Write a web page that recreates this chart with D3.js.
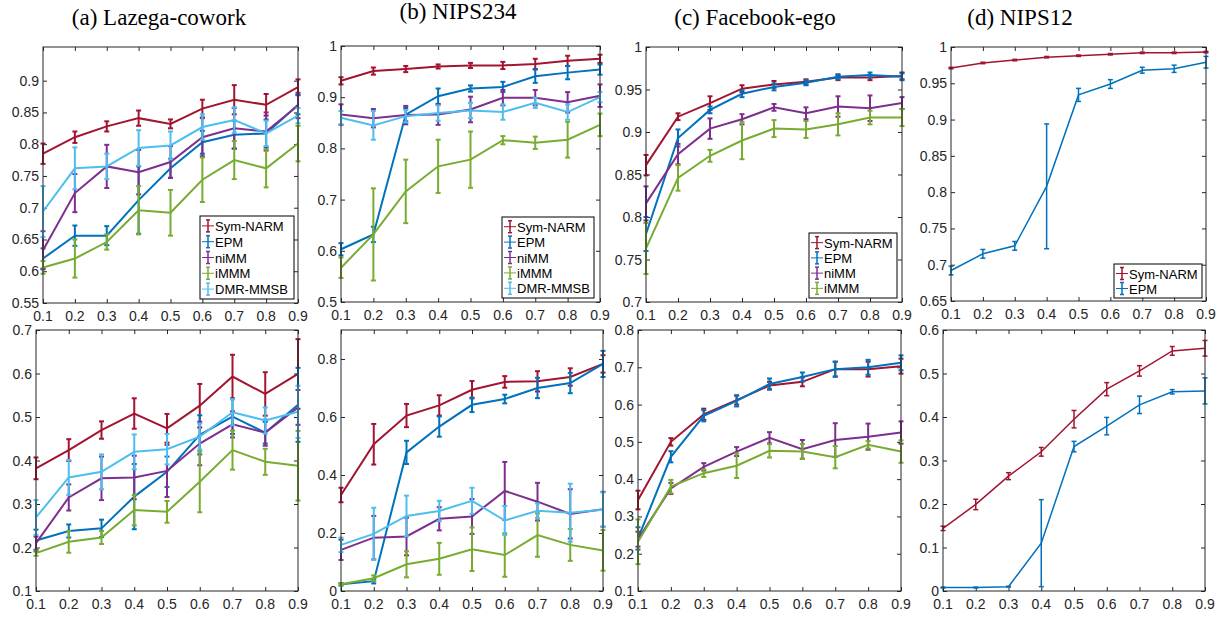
<!DOCTYPE html>
<html>
<head>
<meta charset="utf-8">
<script src="https://cdn.jsdelivr.net/npm/d3@7"></script>
<style>
  body { margin: 0; background: #fff; }
  svg { display: block; }
  .tick-label { font-family: "Liberation Sans", Arial, sans-serif; font-size: 14px; fill: #262626; }
  .legend-label { font-family: "Liberation Sans", Arial, sans-serif; font-size: 13px; fill: #000; }
  .title { font-family: "Liberation Serif", "Times New Roman", serif; font-size: 23px; fill: #000; }
</style>
</head>
<body>
<svg id="chart" width="1223" height="617"></svg>
<script>
// x values (training ratio)
const xValues = [0.1, 0.2, 0.3, 0.4, 0.5, 0.6, 0.7, 0.8, 0.9];
const modelNames = ['Sym-NARM', 'EPM', 'niMM', 'iMMM', 'DMR-MMSB'];
const modelColors = ['#A2142F', '#0072BD', '#7E2F8E', '#77AC30', '#4DBEEE'];

// (a) Lazega-cowork, top row
const lazegaTopMean = [
  [0.785, 0.811, 0.828, 0.841, 0.832, 0.856, 0.870, 0.862, 0.890],
  [0.620, 0.656, 0.656, 0.712, 0.762, 0.803, 0.815, 0.817, 0.862],
  [0.633, 0.723, 0.765, 0.756, 0.772, 0.811, 0.825, 0.820, 0.861],
  [0.606, 0.620, 0.646, 0.696, 0.692, 0.744, 0.775, 0.762, 0.801],
  [0.694, 0.762, 0.765, 0.794, 0.798, 0.827, 0.838, 0.817, 0.845]
];
const lazegaTopErr = [
  [0.016, 0.009, 0.008, 0.012, 0.007, 0.014, 0.023, 0.017, 0.012],
  [0.016, 0.016, 0.015, 0.053, 0.015, 0.018, 0.022, 0.022, 0.015],
  [0.030, 0.030, 0.034, 0.035, 0.025, 0.030, 0.032, 0.030, 0.020],
  [0.010, 0.030, 0.012, 0.038, 0.036, 0.035, 0.030, 0.030, 0.028],
  [0.040, 0.033, 0.020, 0.028, 0.022, 0.020, 0.020, 0.020, 0.012]
];

// (b) NIPS234, top row
const nips234TopMean = [
  [0.932, 0.951, 0.955, 0.960, 0.962, 0.962, 0.965, 0.971, 0.975],
  [0.603, 0.632, 0.866, 0.902, 0.917, 0.920, 0.941, 0.948, 0.954],
  [0.866, 0.859, 0.865, 0.866, 0.876, 0.899, 0.899, 0.890, 0.903],
  [0.567, 0.632, 0.716, 0.765, 0.778, 0.816, 0.811, 0.817, 0.846],
  [0.860, 0.845, 0.863, 0.869, 0.874, 0.871, 0.889, 0.871, 0.900]
];
const nips234TopErr = [
  [0.007, 0.007, 0.006, 0.004, 0.005, 0.007, 0.010, 0.010, 0.008],
  [0.012, 0.015, 0.013, 0.015, 0.006, 0.010, 0.013, 0.013, 0.010],
  [0.020, 0.018, 0.018, 0.020, 0.025, 0.015, 0.015, 0.020, 0.022],
  [0.020, 0.090, 0.062, 0.052, 0.055, 0.008, 0.012, 0.035, 0.022],
  [0.013, 0.028, 0.012, 0.015, 0.015, 0.015, 0.010, 0.015, 0.010]
];

// (c) Facebook-ego, top row
const facebookTopMean = [
  [0.861, 0.918, 0.934, 0.951, 0.956, 0.959, 0.964, 0.964, 0.966],
  [0.780, 0.893, 0.926, 0.945, 0.953, 0.958, 0.965, 0.967, 0.965],
  [0.816, 0.874, 0.904, 0.915, 0.929, 0.922, 0.930, 0.928, 0.934],
  [0.763, 0.846, 0.872, 0.890, 0.904, 0.903, 0.909, 0.917, 0.917]
];
const facebookTopErr = [
  [0.012, 0.004, 0.008, 0.004, 0.004, 0.003, 0.003, 0.003, 0.004],
  [0.020, 0.010, 0.004, 0.004, 0.004, 0.003, 0.003, 0.003, 0.004],
  [0.020, 0.012, 0.012, 0.006, 0.004, 0.007, 0.012, 0.015, 0.007],
  [0.030, 0.015, 0.007, 0.022, 0.010, 0.010, 0.013, 0.008, 0.010]
];

// (d) NIPS12, top row
const nips12TopMean = [
  [0.971, 0.978, 0.982, 0.986, 0.988, 0.990, 0.992, 0.992, 0.993],
  [0.692, 0.715, 0.726, 0.808, 0.934, 0.949, 0.968, 0.970, 0.979]
];
const nips12TopErr = [
  [0.001, 0.001, 0.001, 0.001, 0.001, 0.001, 0.001, 0.001, 0.001],
  [0.006, 0.006, 0.006, 0.086, 0.009, 0.006, 0.004, 0.005, 0.008]
];

// (a) Lazega-cowork, bottom row
const lazegaBottomMean = [
  [0.382, 0.424, 0.470, 0.508, 0.474, 0.526, 0.593, 0.553, 0.599],
  [0.216, 0.238, 0.244, 0.317, 0.374, 0.459, 0.501, 0.464, 0.528],
  [0.210, 0.315, 0.359, 0.361, 0.376, 0.439, 0.483, 0.464, 0.522],
  [0.187, 0.213, 0.223, 0.286, 0.282, 0.351, 0.424, 0.397, 0.388],
  [0.269, 0.361, 0.374, 0.420, 0.426, 0.455, 0.511, 0.492, 0.512]
];
const lazegaBottomErr = [
  [0.025, 0.025, 0.020, 0.035, 0.033, 0.050, 0.050, 0.050, 0.080],
  [0.025, 0.015, 0.020, 0.075, 0.035, 0.045, 0.040, 0.025, 0.085],
  [0.015, 0.030, 0.050, 0.050, 0.060, 0.050, 0.030, 0.030, 0.040],
  [0.006, 0.025, 0.015, 0.035, 0.025, 0.070, 0.045, 0.030, 0.080],
  [0.040, 0.040, 0.040, 0.040, 0.035, 0.030, 0.030, 0.030, 0.060]
];

// (b) NIPS234, bottom row
const nips234BottomMean = [
  [0.331, 0.506, 0.605, 0.640, 0.694, 0.721, 0.723, 0.738, 0.783],
  [0.023, 0.034, 0.478, 0.567, 0.642, 0.662, 0.700, 0.717, 0.783],
  [0.142, 0.184, 0.188, 0.249, 0.257, 0.345, 0.308, 0.266, 0.282],
  [0.023, 0.044, 0.092, 0.111, 0.144, 0.124, 0.193, 0.159, 0.140],
  [0.159, 0.197, 0.259, 0.276, 0.311, 0.243, 0.277, 0.270, 0.280]
];
const nips234BottomErr = [
  [0.025, 0.070, 0.040, 0.035, 0.030, 0.020, 0.035, 0.030, 0.030],
  [0.004, 0.008, 0.040, 0.035, 0.025, 0.015, 0.035, 0.035, 0.045],
  [0.035, 0.075, 0.065, 0.040, 0.060, 0.100, 0.065, 0.085, 0.060],
  [0.004, 0.010, 0.045, 0.055, 0.075, 0.075, 0.075, 0.055, 0.070],
  [0.025, 0.090, 0.070, 0.035, 0.045, 0.050, 0.025, 0.100, 0.060]
];

// (c) Facebook-ego, bottom row
const facebookBottomMean = [
  [0.344, 0.500, 0.574, 0.612, 0.651, 0.661, 0.695, 0.695, 0.703],
  [0.241, 0.460, 0.570, 0.610, 0.655, 0.674, 0.695, 0.700, 0.712],
  [0.239, 0.375, 0.433, 0.474, 0.511, 0.480, 0.505, 0.514, 0.525],
  [0.232, 0.380, 0.416, 0.436, 0.476, 0.474, 0.459, 0.492, 0.474]
];
const facebookBottomErr = [
  [0.025, 0.010, 0.015, 0.012, 0.010, 0.012, 0.020, 0.020, 0.020],
  [0.030, 0.015, 0.015, 0.015, 0.015, 0.012, 0.020, 0.020, 0.020],
  [0.020, 0.015, 0.010, 0.012, 0.015, 0.025, 0.045, 0.035, 0.030],
  [0.060, 0.018, 0.010, 0.033, 0.018, 0.020, 0.030, 0.010, 0.030]
];

// (d) NIPS12, bottom row
const nips12BottomMean = [
  [0.144, 0.199, 0.264, 0.320, 0.395, 0.464, 0.506, 0.552, 0.558],
  [0.008, 0.008, 0.010, 0.110, 0.332, 0.379, 0.428, 0.458, 0.460]
];
const nips12BottomErr = [
  [0.005, 0.012, 0.008, 0.010, 0.020, 0.015, 0.012, 0.010, 0.018],
  [0.001, 0.001, 0.001, 0.100, 0.012, 0.020, 0.020, 0.005, 0.030]
];

const titles = ['(a) Lazega-cowork', '(b) NIPS234', '(c) Facebook-ego', '(d) NIPS12'];

const svg = d3.select('#chart');
const axisColor = '#262626';
const tickLen = 4;
const fmt = (v) => String(+v.toFixed(2));

function drawPanel(cfg) {
  const x = d3.scaleLinear().domain([0.1, 0.9]).range([cfg.left, cfg.right]);
  const y = d3.scaleLinear().domain(cfg.yDomain).range([cfg.bottom, cfg.top]);
  const g = svg.append('g');

  // inward ticks on all four sides
  g.append('g').attr('transform', `translate(0,${cfg.bottom})`)
    .call(d3.axisTop(x).tickValues(xValues).tickSize(tickLen).tickFormat(''));
  g.append('g').attr('transform', `translate(0,${cfg.top})`)
    .call(d3.axisBottom(x).tickValues(xValues).tickSize(tickLen).tickFormat(''));
  g.append('g').attr('transform', `translate(${cfg.left},0)`)
    .call(d3.axisRight(y).tickValues(cfg.yTicks).tickSize(tickLen).tickFormat(''));
  g.append('g').attr('transform', `translate(${cfg.right},0)`)
    .call(d3.axisLeft(y).tickValues(cfg.yTicks).tickSize(tickLen).tickFormat(''));
  g.selectAll('.domain').remove();
  g.selectAll('.tick line').attr('stroke', axisColor).attr('stroke-width', 1);

  g.selectAll('.xlab').data(xValues).join('text')
    .attr('class', 'tick-label')
    .attr('x', (d) => x(d)).attr('y', cfg.bottom + 18)
    .attr('text-anchor', 'middle').text((d) => fmt(d));
  g.selectAll('.ylab').data(cfg.yTicks).join('text')
    .attr('class', 'tick-label')
    .attr('x', cfg.left - 4).attr('y', (d) => y(d) + 5)
    .attr('text-anchor', 'end').text((d) => fmt(d));

  const line = d3.line().x((d, i) => x(xValues[i])).y((d) => y(d));
  const cap = 2.5;
  cfg.mean.forEach((series, k) => {
    const color = modelColors[k];
    const err = cfg.err[k];
    g.append('path').datum(series)
      .attr('fill', 'none').attr('stroke', color)
      .attr('stroke-width', cfg.lw).attr('d', line);
    const bars = g.append('g').attr('stroke', color).attr('stroke-width', cfg.lw);
    series.forEach((v, i) => {
      const cx = x(xValues[i]);
      const y0 = y(v - err[i]);
      const y1 = y(v + err[i]);
      bars.append('line').attr('x1', cx).attr('x2', cx).attr('y1', y0).attr('y2', y1);
      bars.append('line').attr('x1', cx - cap).attr('x2', cx + cap).attr('y1', y0).attr('y2', y0);
      bars.append('line').attr('x1', cx - cap).attr('x2', cx + cap).attr('y1', y1).attr('y2', y1);
    });
  });

  g.append('rect')
    .attr('x', cfg.left).attr('y', cfg.top)
    .attr('width', cfg.right - cfg.left).attr('height', cfg.bottom - cfg.top)
    .attr('fill', 'none').attr('stroke', axisColor).attr('stroke-width', 1);

  if (cfg.legend) {
    const L = cfg.legend;
    const n = cfg.mean.length;
    const lg = g.append('g');
    lg.append('rect').attr('x', L.x).attr('y', L.y).attr('width', L.w).attr('height', L.h)
      .attr('fill', '#fff').attr('stroke', '#000').attr('stroke-width', 1);
    const step = (L.h - 4) / n;
    for (let k = 0; k < n; k++) {
      const cy = L.y + 2 + step * (k + 0.5);
      const c = modelColors[k];
      lg.append('line').attr('x1', L.x + 2).attr('x2', L.x + 14).attr('y1', cy).attr('y2', cy)
        .attr('stroke', c).attr('stroke-width', 1);
      lg.append('line').attr('x1', L.x + 8).attr('x2', L.x + 8).attr('y1', cy - 6).attr('y2', cy + 6)
        .attr('stroke', c).attr('stroke-width', 1.5);
      lg.append('line').attr('x1', L.x + 6).attr('x2', L.x + 10).attr('y1', cy - 6).attr('y2', cy - 6)
        .attr('stroke', c).attr('stroke-width', 1.5);
      lg.append('line').attr('x1', L.x + 6).attr('x2', L.x + 10).attr('y1', cy + 6).attr('y2', cy + 6)
        .attr('stroke', c).attr('stroke-width', 1.5);
      lg.append('text').attr('class', 'legend-label')
        .attr('x', L.x + 15).attr('y', cy + 5).text(modelNames[k]);
    }
  }
}

const rangeTicks = (a, b, s) => d3.range(Math.round((b - a) / s) + 1).map((i) => +(a + i * s).toFixed(2));

const panels = [
  { mean: lazegaTopMean, err: lazegaTopErr, left: 43, right: 298, top: 47, bottom: 303,
    yDomain: [0.55, 0.953], yTicks: rangeTicks(0.55, 0.9, 0.05), lw: 2,
    legend: { x: 200, y: 216, w: 94, h: 83 } },
  { mean: nips234TopMean, err: nips234TopErr, left: 341, right: 600, top: 46, bottom: 302,
    yDomain: [0.5, 1], yTicks: rangeTicks(0.5, 1, 0.1), lw: 2,
    legend: { x: 502, y: 217, w: 92, h: 81 } },
  { mean: facebookTopMean, err: facebookTopErr, left: 646, right: 902, top: 47, bottom: 302,
    yDomain: [0.7, 1], yTicks: rangeTicks(0.7, 1, 0.05), lw: 2,
    legend: { x: 809, y: 233, w: 88, h: 65 } },
  { mean: nips12TopMean, err: nips12TopErr, left: 951, right: 1206, top: 47, bottom: 301,
    yDomain: [0.65, 1], yTicks: rangeTicks(0.65, 1, 0.05), lw: 1.5,
    legend: { x: 1114, y: 264, w: 88, h: 34 } },
  { mean: lazegaBottomMean, err: lazegaBottomErr, left: 36, right: 298, top: 330, bottom: 591,
    yDomain: [0.1, 0.7], yTicks: rangeTicks(0.1, 0.7, 0.1), lw: 2 },
  { mean: nips234BottomMean, err: nips234BottomErr, left: 341, right: 603, top: 330, bottom: 591,
    yDomain: [0, 0.9], yTicks: rangeTicks(0, 0.8, 0.2), lw: 2 },
  { mean: facebookBottomMean, err: facebookBottomErr, left: 638, right: 901, top: 330, bottom: 591,
    yDomain: [0.1, 0.8], yTicks: rangeTicks(0.1, 0.8, 0.1), lw: 2 },
  { mean: nips12BottomMean, err: nips12BottomErr, left: 943, right: 1205, top: 330, bottom: 591,
    yDomain: [0, 0.6], yTicks: rangeTicks(0, 0.6, 0.1), lw: 1.5 }
];

panels.forEach(drawPanel);

// panel titles
const titleX = [159, 458, 755, 1020];
const titleY = [25, 19, 25, 25];
svg.selectAll('.title').data(titles).join('text')
  .attr('class', 'title')
  .attr('x', (d, i) => titleX[i]).attr('y', (d, i) => titleY[i])
  .attr('text-anchor', 'middle').text((d) => d);
</script>
</body>
</html>
